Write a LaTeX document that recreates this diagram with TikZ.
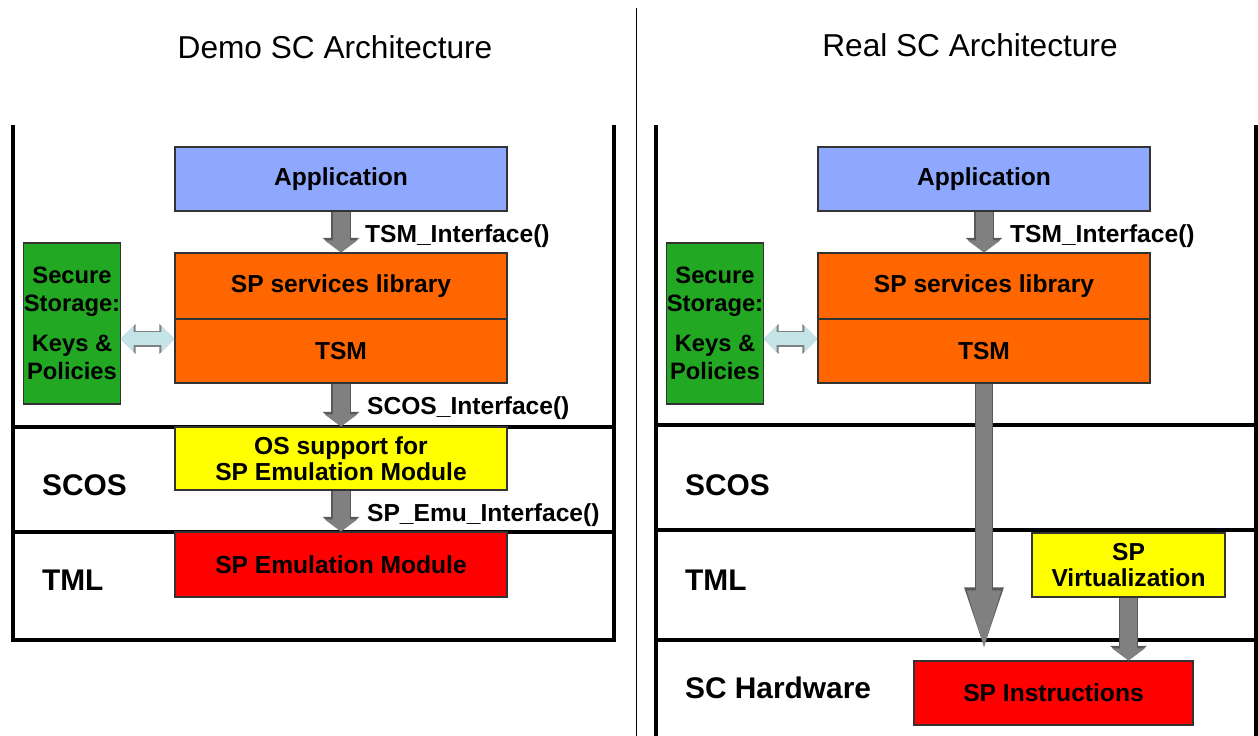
\documentclass[tikz,border=0pt]{standalone}
\usepackage{fontspec}
\setmainfont{Liberation Sans}
\usetikzlibrary{arrows.meta}
\definecolor{appblue}{HTML}{8FA8FF}
\definecolor{svcorange}{HTML}{FF6600}
\definecolor{osyellow}{HTML}{FFFF00}
\definecolor{emured}{HTML}{FF0000}
\definecolor{storegreen}{HTML}{22A822}
\definecolor{linkblue}{HTML}{C4E4E8}
\definecolor{callgray}{HTML}{808080}
\definecolor{rimgray}{HTML}{595959}
\tikzset{
  box/.style={draw=black!80,line width=.6pt,inner sep=0pt,align=center,font=\fontsize{14}{16}\selectfont\bfseries},
  layer/.style={line width=2pt},
  call/.style={callgray,line width=.34cm,-{Triangle[length=.24cm,width=.64cm]},
    preaction={draw=rimgray,line width=.39cm,-{Triangle[length=.29cm,width=.72cm]}}},
  bigcall/.style={callgray,line width=.32cm,-{Triangle[length=1.40cm,width=.56cm]},
    preaction={draw=rimgray,line width=.37cm,-{Triangle[length=1.46cm,width=.64cm]}}},
  link/.style={linkblue,line width=.26cm,{Triangle[length=.26cm,width=.50cm]}-{Triangle[length=.26cm,width=.50cm]},
    preaction={draw=black!50,line width=.31cm,{Triangle[length=.30cm,width=.58cm]}-{Triangle[length=.30cm,width=.58cm]}}},
  calltext/.style={anchor=west,inner sep=1pt,font=\fontsize{14}{16}\selectfont\bfseries},
  laytext/.style={anchor=west,inner sep=1pt,font=\fontsize{17}{19}\selectfont\bfseries},
}
\begin{document}
\begin{tikzpicture}[x=1cm,y=1cm]
\useasboundingbox (0,0) rectangle (25.16,14.72);
% titles and divider
\node[font=\fontsize{18}{20}\selectfont] (demotitle) at (6.70,13.78) {Demo SC Architecture};
\node[font=\fontsize{18}{20}\selectfont] (realtitle) at (19.40,13.82) {Real SC Architecture};
\draw[line width=.5pt] (12.72,14.56)--(12.72,0);
% left panel frame
\draw[layer] (0.26,12.22)--(0.26,1.92)--(12.28,1.92)--(12.28,12.22);
\draw[layer] (0.26,6.18)--(12.28,6.18);
\draw[layer] (0.26,4.08)--(12.28,4.08);
% right panel frame
\draw[layer] (13.12,12.22)--(13.12,0);
\draw[layer] (25.12,12.22)--(25.12,0);
\draw[layer] (13.12,6.22)--(25.12,6.22);
\draw[layer] (13.12,4.12)--(25.12,4.12);
\draw[layer] (13.12,1.92)--(25.12,1.92);
% layer names
\node[laytext] (scosL) at (0.80,5.02) {SCOS};
\node[laytext] (tmlL) at (0.80,3.12) {TML};
\node[laytext] (scosR) at (13.66,5.02) {SCOS};
\node[laytext] (tmlR) at (13.66,3.12) {TML};
\node[laytext] (hwR) at (13.66,0.96) {SC Hardware};
% left stack
\node[box,fill=appblue,minimum width=6.64cm,minimum height=1.28cm] (appL) at (6.82,11.14) {Application};
\node[box,fill=svcorange,minimum width=6.64cm,minimum height=1.32cm] (svcL) at (6.82,9.00) {SP services library};
\node[box,fill=svcorange,minimum width=6.64cm,minimum height=1.28cm] (tsmL) at (6.82,7.70) {TSM};
\node[box,fill=osyellow,minimum width=6.64cm,minimum height=1.26cm,font=\fontsize{14}{15}\selectfont\bfseries] (osL) at (6.82,5.55) {OS support for\\SP Emulation Module};
\node[box,fill=emured,minimum width=6.64cm,minimum height=1.30cm] (emuL) at (6.82,3.43) {SP Emulation Module};
\node[box,fill=storegreen,minimum width=1.92cm,minimum height=3.22cm,font=\fontsize{13.5}{16}\selectfont\bfseries] (storeL) at (1.44,8.25) {Secure\\Storage:\\[7pt]Keys \&\\Policies};
% right stack
\node[box,fill=appblue,minimum width=6.64cm,minimum height=1.28cm] (appR) at (19.68,11.14) {Application};
\node[box,fill=svcorange,minimum width=6.64cm,minimum height=1.32cm] (svcR) at (19.68,9.00) {SP services library};
\node[box,fill=svcorange,minimum width=6.64cm,minimum height=1.28cm] (tsmR) at (19.68,7.70) {TSM};
\node[box,fill=osyellow,minimum width=3.86cm,minimum height=1.28cm,font=\fontsize{14}{15}\selectfont\bfseries] (virtR) at (22.57,3.42) {SP\\Virtualization};
\node[box,fill=emured,minimum width=5.58cm,minimum height=1.28cm] (instrR) at (21.07,0.86) {SP Instructions};
\node[box,fill=storegreen,minimum width=1.92cm,minimum height=3.22cm,font=\fontsize{13.5}{16}\selectfont\bfseries] (storeR) at (14.30,8.25) {Secure\\Storage:\\[7pt]Keys \&\\Policies};
% calls
\draw[call] (appL.south)--(svcL.north);
\draw[call] (tsmL.south)--(osL.north);
\draw[call] (osL.south)--(emuL.north);
\draw[call] (appR.south)--(svcR.north);
\draw[bigcall] (tsmR.south)--(tsmR.south |- instrR.north);
\draw[call] (virtR.south)--(virtR.south |- instrR.north);
\draw[link] (storeL.east |- 0,7.94)--(tsmL.west |- 0,7.94);
\draw[link] (storeR.east |- 0,7.94)--(tsmR.west |- 0,7.94);
% call names
\node[calltext] (tsmifL) at (7.26,10.00) {TSM\_Interface()};
\node[calltext] (scosif) at (7.30,6.56) {SCOS\_Interface()};
\node[calltext] (emuif) at (7.30,4.42) {SP\_Emu\_Interface()};
\node[calltext] (tsmifR) at (20.16,10.00) {TSM\_Interface()};
\end{tikzpicture}
\end{document}
